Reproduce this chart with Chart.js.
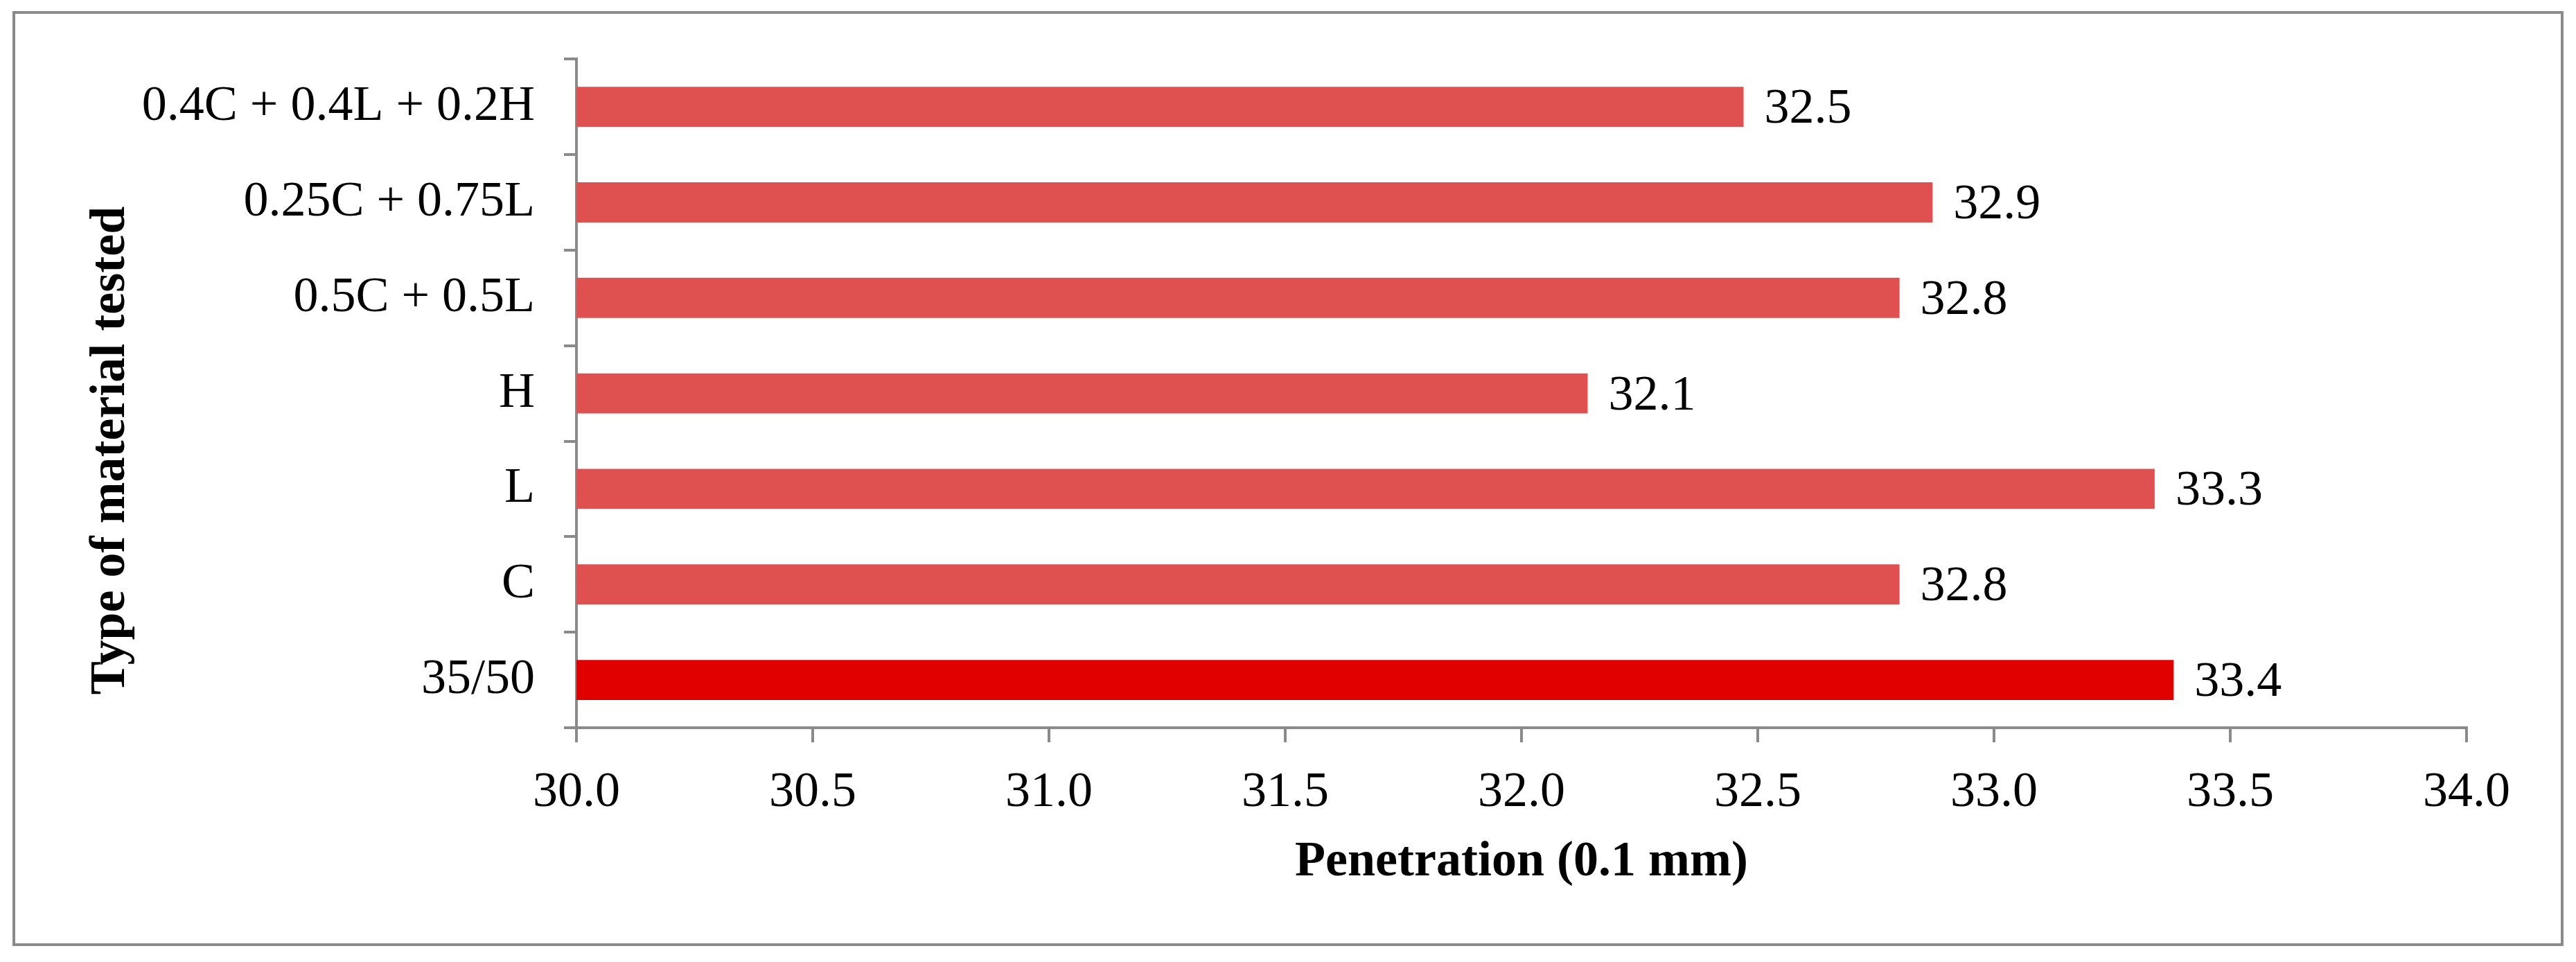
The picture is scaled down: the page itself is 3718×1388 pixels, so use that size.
<!DOCTYPE html>
<html lang="en">
<head>
    <meta charset="UTF-8" />
    <title>Penetration</title>
    <script src="https://cdn.jsdelivr.net/npm/chart.js@4.4.1/dist/chart.umd.min.js"></script>
    <style>
        html, body { margin: 0; padding: 0; background: #fff; }
        canvas { display: block; }
    </style>
</head>
<body>
    <canvas id="myChart" width="3718" height="1388"></canvas>
    <script>
        const categories = ['0.4C + 0.4L + 0.2H', '0.25C + 0.75L', '0.5C + 0.5L', 'H', 'L', 'C', '35/50']
        const penetration = [32.47, 32.87, 32.80, 32.14, 33.34, 32.80, 33.38]
        const xTicks = [30.0, 30.5, 31.0, 31.5, 32.0, 32.5, 33.0, 33.5, 34.0]

        const barColors = ['#de5150', '#de5150', '#de5150', '#de5150', '#de5150', '#de5150', '#e00000']
        const serif = '"Liberation Serif", "Times New Roman", serif'
        const gray = '#8a8a8a'

        // white page with grey frame, and the y title drawn lower like the original
        const frame = {
            id: 'frame',
            beforeDraw(chart) {
                const ctx = chart.ctx
                ctx.save()
                ctx.fillStyle = '#fff'
                ctx.fillRect(0, 0, chart.width, chart.height)
                ctx.strokeStyle = gray
                ctx.lineWidth = 4
                ctx.strokeRect(20, 18, 3678, 1345)
                ctx.restore()
            },
            afterDraw(chart) {
                const ctx = chart.ctx
                ctx.save()
                ctx.translate(160, 650)
                ctx.rotate(-Math.PI / 2)
                ctx.font = 'bold 72px ' + serif
                ctx.fillStyle = '#000'
                ctx.textAlign = 'center'
                ctx.textBaseline = 'middle'
                ctx.fillText('Type of material tested', 0, 0)
                ctx.restore()
            }
        }

        const valueLabels = {
            id: 'valueLabels',
            afterDatasetsDraw(chart) {
                const ctx = chart.ctx
                const meta = chart.getDatasetMeta(0)
                ctx.save()
                ctx.font = '72px ' + serif
                ctx.fillStyle = '#000'
                ctx.textAlign = 'left'
                ctx.textBaseline = 'middle'
                meta.data.forEach((bar, i) => {
                    ctx.fillText(penetration[i].toFixed(1), bar.x + 30, bar.y + 4)
                })
                ctx.restore()
            }
        }

        const ctx = document.getElementById('myChart').getContext('2d')
        const chart = new Chart(ctx, {
            type: 'bar',
            data: {
                labels: categories,
                datasets: [{
                    label: 'Penetration',
                    data: penetration,
                    backgroundColor: barColors,
                    borderWidth: 0,
                    barPercentage: 0.42,
                    categoryPercentage: 1
                }]
            },
            plugins: [frame, valueLabels],
            options: {
                indexAxis: 'y',
                responsive: false,
                animation: false,
                devicePixelRatio: 1,
                layout: { padding: { left: 0, top: 82, right: 158, bottom: 0 } },
                plugins: {
                    legend: { display: false },
                    tooltip: { enabled: false }
                },
                scales: {
                    x: {
                        min: xTicks[0],
                        max: xTicks[xTicks.length - 1],
                        afterBuildTicks(scale) {
                            scale.ticks = xTicks.map(v => ({ value: v }))
                        },
                        afterFit(scale) { scale.height = 338 },
                        ticks: {
                            callback: v => Number(v).toFixed(1),
                            color: '#000',
                            font: { family: serif, size: 72 },
                            padding: 30,
                            maxRotation: 0,
                            autoSkip: false
                        },
                        grid: {
                            drawOnChartArea: false,
                            drawTicks: true,
                            tickLength: 21,
                            color: gray,
                            lineWidth: 4
                        },
                        border: { display: true, color: gray, width: 4 },
                        title: {
                            display: true,
                            text: 'Penetration (0.1 mm)',
                            color: '#000',
                            font: { family: serif, size: 72, weight: 'bold' },
                            padding: { top: 0, bottom: 100 }
                        }
                    },
                    y: {
                        afterFit(scale) { scale.width = 832 },
                        ticks: {
                            color: '#000',
                            font: { family: serif, size: 72 },
                            padding: 42,
                            autoSkip: false
                        },
                        grid: {
                            offset: true,
                            drawOnChartArea: false,
                            drawTicks: true,
                            tickLength: 18,
                            color: gray,
                            lineWidth: 4
                        },
                        border: { display: true, color: gray, width: 4 }
                    }
                }
            }
        })
    </script>
</body>
</html>
